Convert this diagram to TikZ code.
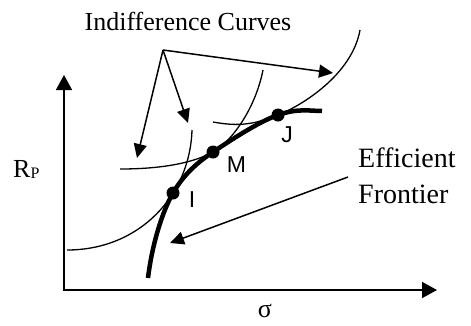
\documentclass[tikz,border=0pt]{standalone}
\usepackage{fontspec}
\setmainfont{Liberation Serif}
\newfontfamily\arialfont{Liberation Sans}
\usetikzlibrary{arrows.meta}
\begin{document}
\begin{tikzpicture}[x=1pt,y=-1pt,
  icurve/.style={line width=1.3pt},
  frontier/.style={line width=4.5pt},
  pointer/.style={line width=1.5pt,-{Triangle[length=14pt,width=13pt]}},
  axis/.style={line width=1.6pt,{Triangle[length=15pt,width=16pt]}-{Triangle[length=15pt,width=16pt]}},
  dot/.style={circle,fill,inner sep=0pt,minimum size=13pt},
  ptlabel/.style={font=\arialfont\fontsize{23}{23}\selectfont,anchor=base,inner sep=0pt},
  serif/.style={font=\fontsize{26}{30}\selectfont,inner sep=0pt,anchor=base},
  bigserif/.style={font=\fontsize{28}{34}\selectfont,inner sep=0pt,anchor=base west}]
\useasboundingbox (0,0) rectangle (471,325);

% axes
\coordinate (O) at (64,290);
\coordinate (ytip) at (64,75);
\coordinate (xtip) at (437,290);
\draw[axis] (ytip) -- (O) -- (xtip);

% points
\coordinate (I) at (173,193);
\coordinate (M) at (213,152);
\coordinate (J) at (278,115);

% indifference curves
\draw[icurve] (67,250) .. controls (140,250) and (190,195) .. (192,130);
\draw[icurve] (120,169) .. controls (165,169) and (195,162) .. (M)
                        .. controls (231,142) and (255,110) .. (263,70);
\draw[icurve] (213,122) .. controls (240,127) and (255,124) .. (J)
                        .. controls (301,106) and (352,75) .. (360,30);

% efficient frontier
\draw[frontier] (148,278) .. controls (152,245) and (162,212) .. (I)
                .. controls (184,174) and (198,162) .. (M)
                .. controls (228,142) and (258,122) .. (J)
                .. controls (298,108) and (310,111) .. (322,111);

\node[dot] (dI) at (I) {};
\node[dot] (dM) at (M) {};
\node[dot] (dJ) at (J) {};

% labels
\node[ptlabel] (lI) at (192,207) {I};
\node[ptlabel] (lM) at (236.5,172) {M};
\node[ptlabel] (lJ) at (287,142) {J};

\node[serif] (ic) at (188,30) {Indifference Curves};
\node[bigserif] (ef1) at (358,167) {Efficient};
\node[bigserif] (ef2) at (358,203) {Frontier};
\node[font=\fontsize{26}{30}\selectfont,inner sep=0pt,anchor=base west] (rp) at (13,177) {R\raisebox{-1.5pt}{\fontsize{16}{16}\selectfont P}};
\node[serif] (sig) at (265,317) {σ};

% pointers
\coordinate (src) at (163,50);
\coordinate (t1) at (137,158);
\coordinate (t2) at (188,123);
\coordinate (t3) at (333,73);
\draw[pointer] (src) -- (t1);
\draw[pointer] (src) -- (t2);
\draw[pointer] (src) -- (t3);

\coordinate (efs) at (348,177);
\coordinate (eft) at (170,243);
\draw[pointer] (efs) -- (eft);
\end{tikzpicture}
\end{document}
